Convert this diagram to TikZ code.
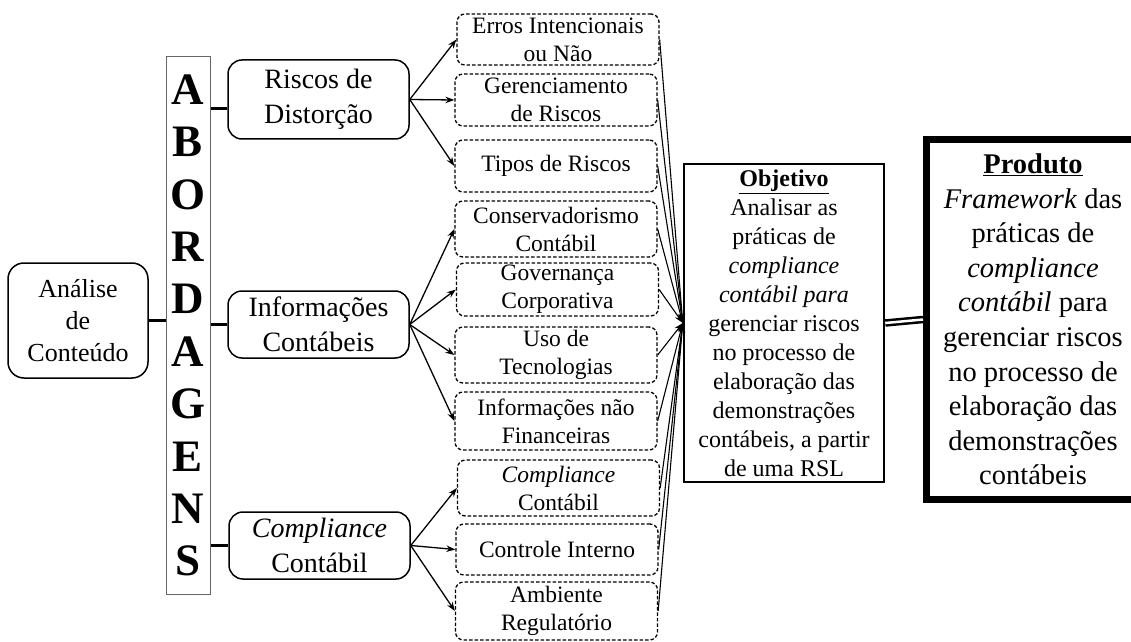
\documentclass[tikz,border=0pt]{standalone}
\usepackage{fontspec}
\setmainfont{Liberation Serif}
\usetikzlibrary{arrows.meta}

\begin{document}
\begin{tikzpicture}[x=1pt,y=1pt,
    caixa/.style={draw,rounded corners=14pt,line width=1.5pt,align=center,inner sep=0pt,
      minimum width=181pt,minimum height=67pt,font=\fontsize{28}{35}\selectfont},
    tracejada/.style={draw,dash pattern=on 3.5pt off 2pt,rounded corners=8pt,line width=1.3pt,
      align=center,inner sep=0pt,minimum width=202pt,font=\fontsize{23.5}{28}\selectfont},
    seta/.style={-{Stealth[length=9pt,width=6.5pt]},line width=1.3pt},
    liga/.style={line width=3pt}]
    \useasboundingbox (0,0) rectangle (1131,641);

    % lado esquerdo
    \node[caixa,minimum width=140pt,minimum height=115pt,rounded corners=16pt,
      font=\fontsize{26}{32}\selectfont] (analise) at (78,320.5) {Análise\\de\\Conteúdo};
    \node[draw=black!60,line width=1pt,minimum width=44pt,minimum height=537pt,inner sep=0pt,
      align=center,font=\fontsize{45}{52.4}\selectfont\bfseries] (abord) at (188,315.5)
      {A\\B\\O\\R\\D\\A\\G\\E\\N\\S};

    \node[caixa,minimum height=79pt] (riscos) at (318.5,541.5) {Riscos de\\Distorção};
    \node[caixa] (info) at (318.5,316.5) {Informações\\Contábeis};
    \node[caixa] (compl) at (319.5,95.5) {\textit{Compliance}\\Contábil};

    % caixas tracejadas
    \node[tracejada,minimum height=51pt] (erros) at (558,601.5) {Erros Intencionais\\ou Não};
    \node[tracejada,minimum height=52pt] (gerenc) at (556,541) {Gerenciamento\\de Riscos};
    \node[tracejada,minimum height=52pt] (tipos) at (556,475) {Tipos de Riscos};
    \node[tracejada,minimum height=56pt] (conserv) at (556,412) {Conservadorismo\\Contábil};
    \node[tracejada,minimum height=53pt] (govern) at (557.5,351.5) {Governança\\Corporativa};
    \node[tracejada,minimum height=56pt] (uso) at (556,286) {Uso de\\Tecnologias};
    \node[tracejada,minimum height=58pt] (naofin) at (556,220) {Informações não\\Financeiras};
    \node[tracejada,minimum height=56pt] (complc) at (558.5,153) {\textit{Compliance}\\Contábil};
    \node[tracejada,minimum height=51pt] (controle) at (557,91.5) {Controle Interno};
    \node[tracejada,minimum height=58pt] (ambiente) at (556.5,30) {Ambiente\\Regulatório};

    % objetivo e produto
    \node[draw,line width=2.5pt,minimum width=200pt,minimum height=318pt,inner sep=0pt,align=center,
      font=\fontsize{24}{29}\selectfont] (objetivo) at (784,318)
      {\underline{\textbf{Objetivo}}\\Analisar as\\práticas de\\\textit{compliance}\\\textit{contábil para}\\
       gerenciar riscos\\no processo de\\elaboração das\\demonstrações\\contábeis, a partir\\de uma RSL};
    \node[draw,line width=7pt,minimum width=213pt,minimum height=360pt,inner sep=0pt,align=center,
      font=\fontsize{28.5}{34.6}\selectfont] (produto) at (1033,321.5)
      {\underline{\textbf{Produto}}\\\textit{Framework} das\\práticas de\\\textit{compliance}\\\textit{contábil} para\\
       gerenciar riscos\\no processo de\\elaboração das\\demonstrações\\contábeis};

    % ligacoes
    \draw[liga] (analise.east) -- (analise.east -| abord.west);
    \draw[liga] ([yshift=-9pt]riscos.west) -- ([yshift=-9pt]riscos.west -| abord.east);
    \draw[liga] (info.west) -- (info.west -| abord.east);
    \draw[liga] (compl.west) -- (compl.west -| abord.east);

    \foreach \alvo in {erros,gerenc,tipos} \draw[seta] (riscos.east) -- (\alvo.west);
    \foreach \alvo in {conserv,govern,uso,naofin} \draw[seta] (info.east) -- (\alvo.west);
    \foreach \alvo in {complc,controle,ambiente} \draw[seta] (compl.east) -- (\alvo.west);
    \foreach \fonte in {erros,gerenc,tipos,conserv,govern,uso,naofin,complc,controle,ambiente}
      \draw[seta,line width=1.1pt] (\fonte.east) -- (objetivo.west);

    \draw[double,double distance=2.5pt,line width=2.5pt] (objetivo.east) -- (produto.west);
\end{tikzpicture}
\end{document}
